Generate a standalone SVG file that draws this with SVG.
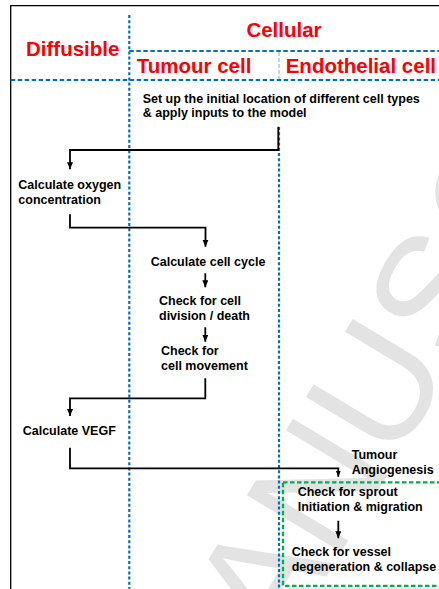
<svg xmlns="http://www.w3.org/2000/svg" width="439" height="589" viewBox="0 0 439 589">
<style>
.hd{font-family:"Liberation Sans",Arial,sans-serif;font-weight:bold;font-size:20.5px;fill:#ff0000}
.tx{font-family:"Liberation Sans",Arial,sans-serif;font-weight:bold;font-size:12.5px;fill:#000}
.wm{font-family:"Liberation Sans",Arial,sans-serif;font-size:160px;fill:#e3e3e3}
.bl{stroke:#0070c0;stroke-width:2.2;fill:none}
.bv{stroke-dasharray:3 2.2}
.bh{stroke-dasharray:4.5 2.5}
.cn{stroke:#000;stroke-width:1.8;fill:none}
</style>
<defs>
<marker id="ah" markerUnits="userSpaceOnUse" markerWidth="8" markerHeight="7" refX="7" refY="3" orient="auto">
<path d="M0,0 L7,3 L0,6 z" fill="#000"/>
</marker>
<marker id="ahs" markerUnits="userSpaceOnUse" markerWidth="7" markerHeight="6" refX="6" refY="2.5" orient="auto">
<path d="M0,0 L6,2.5 L0,5 z" fill="#000"/>
</marker>
</defs>
<rect width="439" height="589" fill="#fff"/>
<g id="watermark" transform="translate(211,769) rotate(-59)">
<text class="wm" x="0" y="0">MANUSCRIPT</text>
</g>
<g id="frame">
<path d="M10.7,589 V5.7 H439" stroke="#000" stroke-width="1.3" fill="none"/>
<line class="bl bv" x1="129.3" y1="15" x2="129.3" y2="589"/>
<line class="bl bh" x1="129.3" y1="51" x2="439" y2="51"/>
<line class="bl bh" x1="10.7" y1="80" x2="439" y2="80"/>
<line x1="279" y1="52" x2="279" y2="79" stroke="#0070c0" stroke-width="0.9" stroke-dasharray="4 2" opacity="0.6"/>
<line class="bl bv" x1="279" y1="127" x2="279" y2="589"/>
</g>
<g id="headers">
<text class="hd" x="284" y="36.7" text-anchor="middle">Cellular</text>
<text class="hd" x="26" y="55.7">Diffusible</text>
<text class="hd" x="136.7" y="73.3">Tumour cell</text>
<text class="hd" x="285.7" y="73.3">Endothelial cell</text>
</g>
<g id="angio-box">
<rect x="283" y="482.3" width="200" height="103.5" fill="none" stroke="#00b050" stroke-width="2.3" stroke-dasharray="4.5 2.5"/>
</g>
<g id="connectors">
<path class="cn" d="M278.3,126.7 V150 H70 V169.3" marker-end="url(#ah)"/>
<path class="cn" d="M70,214.3 V227.7 H205.5 V246.7" marker-end="url(#ah)"/>
<path class="cn" d="M205.3,273.3 V287.3" marker-end="url(#ah)"/>
<path class="cn" d="M205.3,327.3 V341.7" marker-end="url(#ah)"/>
<path class="cn" d="M205.3,378.3 V398.3 H70 V416" marker-end="url(#ah)"/>
<path class="cn" d="M70,447.7 V468.3 H338.3 V476.7" marker-end="url(#ahs)"/>
<path class="cn" d="M338.3,520.7 V538.3" marker-end="url(#ah)"/>
</g>
<g id="setup">
<text class="tx" x="142.7" y="102.5">Set up the initial location of different cell types</text>
<text class="tx" x="142.7" y="117.3">&amp; apply inputs to the model</text>
</g>
<g id="oxygen">
<text class="tx" x="18.3" y="189.3">Calculate oxygen</text>
<text class="tx" x="18.3" y="203.5">concentration</text>
</g>
<g id="cellcycle">
<text class="tx" x="150.7" y="265.7">Calculate cell cycle</text>
</g>
<g id="division">
<text class="tx" x="159" y="305">Check for cell</text>
<text class="tx" x="159" y="320">division / death</text>
</g>
<g id="movement">
<text class="tx" x="161" y="354.5">Check for</text>
<text class="tx" x="161" y="369.5">cell movement</text>
</g>
<g id="vegf">
<text class="tx" x="22.7" y="435">Calculate VEGF</text>
</g>
<g id="angiogenesis">
<text class="tx" x="351.7" y="459">Tumour</text>
<text class="tx" x="351.7" y="474">Angiogenesis</text>
</g>
<g id="sprout">
<text class="tx" x="297.7" y="496">Check for sprout</text>
<text class="tx" x="297.7" y="510.7">Initiation &amp; migration</text>
</g>
<g id="vessel">
<text class="tx" x="291.7" y="555.7">Check for vessel</text>
<text class="tx" x="291.7" y="570.7">degeneration &amp; collapse</text>
</g>
</svg>
